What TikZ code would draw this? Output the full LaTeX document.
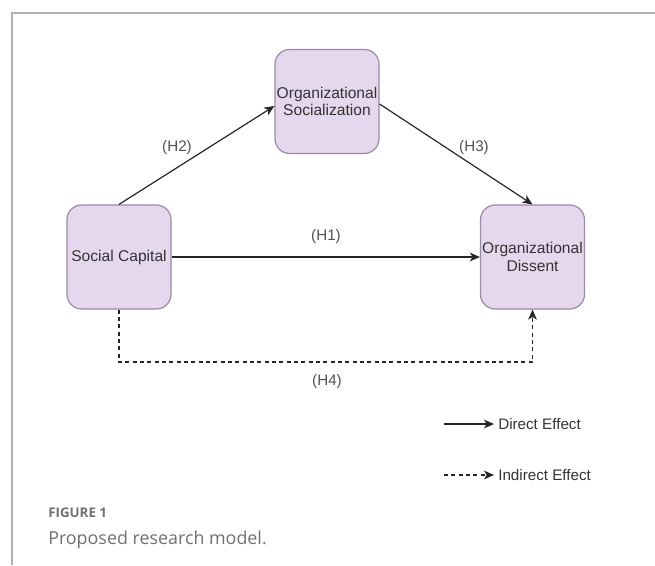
\documentclass[tikz,border=0pt]{standalone}
\usepackage{fontspec}
\setmainfont{Liberation Sans}
\newfontfamily\capfont{Open Sans}
\usetikzlibrary{arrows.meta}
\definecolor{boxfill}{HTML}{E6D8EC}
\definecolor{boxline}{HTML}{9C88A8}
\definecolor{txt}{HTML}{333333}
\definecolor{framegray}{HTML}{B0B0B0}
\definecolor{capgray}{HTML}{707070}
\tikzset{
  construct/.style={draw=boxline, line width=0.9pt, fill=boxfill, rounded corners=11pt,
    minimum width=78pt, minimum height=78pt, inner sep=0pt, align=center,
    font=\fontsize{11.7}{13}\selectfont, text=txt},
  conn/.style={line width=0.9pt, draw=black!85, -{Stealth[length=7.5pt,width=6.5pt,inset=2pt]}},
  dconn/.style={conn, dash pattern=on 3pt off 2.5pt},
  hlabel/.style={font=\fontsize{11.4}{13}\selectfont, text=txt!85, inner sep=0pt},
  legtext/.style={font=\fontsize{11.4}{13}\selectfont, text=txt, anchor=west, inner sep=0pt},
}
\begin{document}
\begin{tikzpicture}[x=0.75pt,y=-0.75pt]
\useasboundingbox (0,0) rectangle (655,565);
\draw[framegray, line width=1pt] (655,13) -- (12,13) -- (12,565);
\node[construct] (os) at (327,101.5) {Organizational\\Socialization};
\node[construct] (sc) at (119,257) {Social Capital};
\node[construct] (od) at (532.5,257) {Organizational\\Dissent};
\draw[conn] (sc.north) -- (os.west |- 0,106);
\draw[conn] (os.east |- 0,104) -- (od.north);
\draw[conn] (sc.east) -- (od.west);
\coordinate (dl) at (119,362);
\coordinate (dr) at (532.5,362);
\draw[dconn] (sc.south) -- (dl) -- (dr) -- (od.south);
\node[hlabel] (h2) at (177,148) {(H2)};
\node[hlabel] (h3) at (474,148) {(H3)};
\node[hlabel] (h1) at (326,237) {(H1)};
\node[hlabel] (h4) at (327,382) {(H4)};
\coordinate (l1a) at (444,424);
\coordinate (l1b) at (494,424);
\node[legtext] (l1t) at (498,424) {Direct Effect};
\draw[conn] (l1a) -- (l1b);
\coordinate (l2a) at (444,475);
\coordinate (l2b) at (494,475);
\node[legtext] (l2t) at (498,475) {Indirect Effect};
\draw[dconn] (l2a) -- (l2b);
\node[anchor=west, inner sep=0pt, text=capgray, font=\capfont\bfseries\fontsize{10}{12}\selectfont] (fig) at (48,513) {FIGURE 1};
\node[anchor=west, inner sep=0pt, text=capgray, font=\capfont\fontsize{13.4}{16}\selectfont] (cap) at (48,540) {Proposed research model.};
\end{tikzpicture}
\end{document}
